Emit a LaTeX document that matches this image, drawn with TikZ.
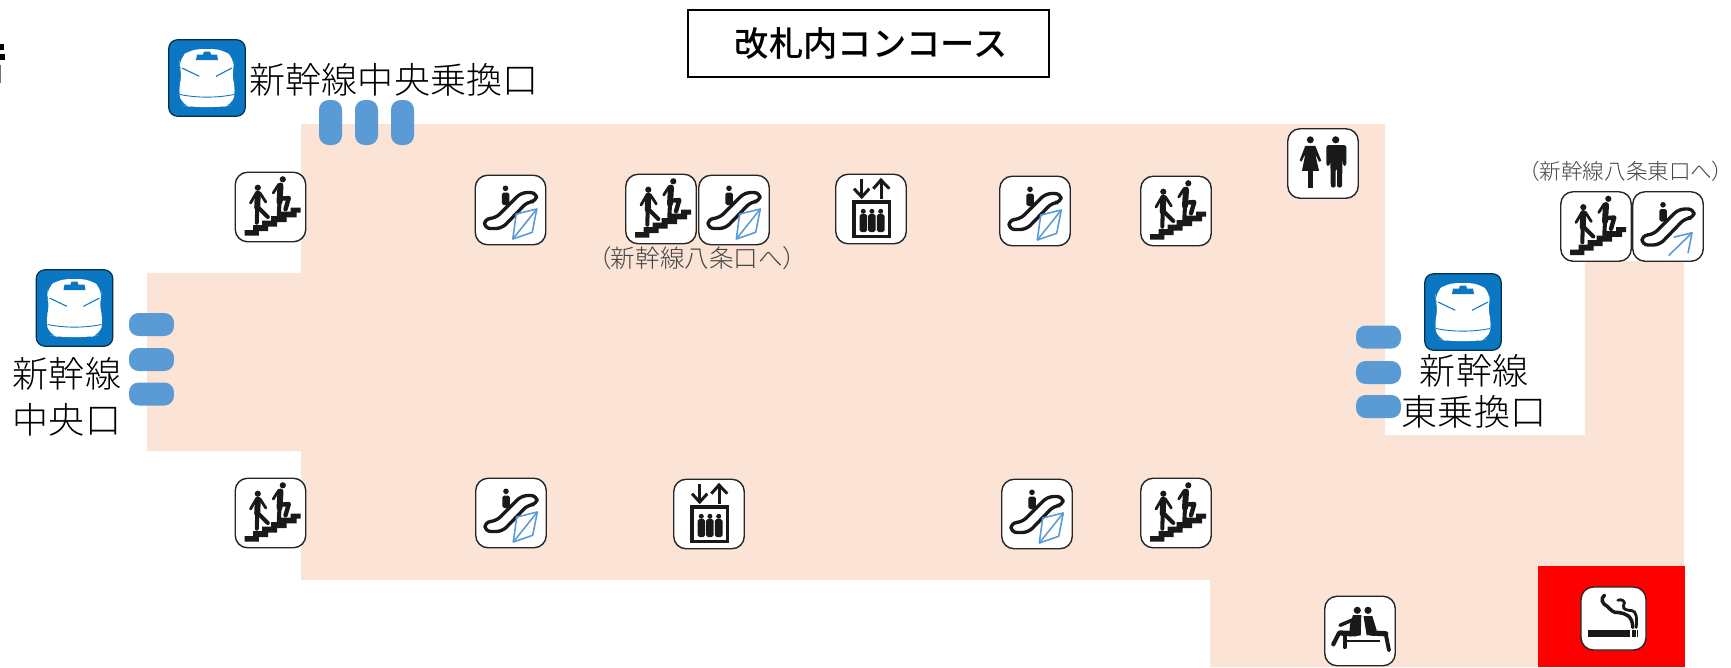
\documentclass[tikz,border=0pt]{standalone}
\usepackage{fontspec}
\newfontfamily\jpfont{Noto Sans CJK JP Light}
\newfontfamily\jpparen[RawFeature=+palt]{Noto Sans CJK JP Light}
\newfontfamily\jpbold{Noto Sans CJK JP Medium}
\definecolor{floorpink}{HTML}{FBE4D6}
\definecolor{gateblue}{HTML}{5B9BD5}
\definecolor{trainblue}{HTML}{0B77C2}
\definecolor{icongray}{HTML}{444444}
\tikzset{
  iconbox/.style={draw=black!85, fill=white, line width=0.8pt, rounded corners=7pt, minimum width=1.41cm, minimum height=1.39cm, inner sep=0pt},
  gatev/.style={fill=gateblue, rounded corners=5.5pt, minimum width=0.46cm, minimum height=0.9cm, inner sep=0pt},
  gateh/.style={fill=gateblue, rounded corners=5.5pt, minimum width=0.9cm, minimum height=0.46cm, inner sep=0pt},
  trainbox/.style={draw=black!60!trainblue, fill=trainblue, line width=0.7pt, rounded corners=5pt, minimum width=1.53cm, minimum height=1.53cm, inner sep=0pt},
  bigtext/.style={font=\jpfont\fontsize{20.5}{26}\selectfont, inner sep=0pt, align=center},
  notetext/.style={text=icongray, inner sep=0pt},
  limb/.style={draw=black!90, line cap=round, line join=round},
  % person on a stair
  pics/stairsicon/.style={code={
    \fill[black!90] (-26,27.7) -- (-26,23) -- (-17.3,23) -- (-17.3,18) -- (-8.3,18) -- (-8.3,13.5) -- (0.7,13.5) -- (0.7,9) -- (10,9) -- (10,4.5) -- (20,4.5) -- (20,0.5) -- (30,0.5) -- (30,5.5) -- (26,5.5) -- (26,10.3) -- (16,10.3) -- (16,15) -- (6.7,15) -- (6.7,19.5) -- (-2.3,19.5) -- (-2.3,24) -- (-11.7,24) -- (-11.7,28.5) -- (-26,28.5) -- cycle;
    \fill[black!90] (-12.7,-19.3) circle (3.1);
    \draw[limb, line width=3.4pt] (-12.7,-13.5) -- (-13.3,0.5);
    \draw[limb, line width=1.6pt] (-14,-14.3) -- (-20,-4);
    \draw[limb, line width=1.6pt] (-10.7,-14.3) -- (-4.7,-5);
    \draw[limb, line width=2.3pt] (-13.3,1) -- (-13.7,15.7);
    \draw[limb, line width=2.3pt] (-11.7,1) -- (-2.7,10);
    \fill[black!90] (12.3,-27.7) circle (3.1);
    \draw[limb, line width=3.4pt] (10,-21.5) -- (9,-5);
    \draw[limb, line width=1.6pt] (8.3,-22.7) -- (2.7,-14);
    \draw[limb, line width=2.3pt] (9,-5) -- (8.3,8.3);
    \draw[limb, line width=2.5pt] (10,-8.3) -- (18.3,-9) -- (15,2.3);
  }},
  % escalator body and rider
  pics/escbody/.style={code={
    \draw[black!90, line width=1.9pt, rounded corners=3.4pt] (10.7,-17.5) -- (26,-17.5) -- (26,-8.5) -- (17.3,-8.5) -- (-8.7,18.5) -- (-26,18.5) -- (-26,8.5) -- (-15.3,8.5) -- cycle;
    \fill[black!90] (-5,-21.7) circle (2.8);
    \fill[black!90, rounded corners=1pt] (-8.7,-17.5) rectangle (-1.2,-5);
  }},
  pics/escboth/.style={code={
    \pic {escbody};
    \draw[gateblue, line width=0.9pt, line join=round] (5.7,4) -- (26.3,-1) -- (21.7,22.3) -- (2.3,29) -- cycle;
    \draw[gateblue, line width=0.9pt] (26.3,-1) -- (2.3,29);
  }},
  pics/escup/.style={code={
    \pic {escbody};
    \draw[gateblue, line width=0.9pt] (0.7,29) -- (24,6.3);
    \draw[gateblue, line width=0.9pt, line join=round] (5.7,10.7) -- (24,6.3) -- (20,26.7);
  }},
  pics/elevicon/.style={code={
    \draw[black!90, line width=1.7pt] (-9.3,-30.3) -- (-9.3,-12);
    \draw[black!90, line width=1.7pt] (-17,-20.3) -- (-9.3,-12) -- (-1.7,-20.3);
    \draw[black!90, line width=1.7pt] (10,-10.3) -- (10,-29);
    \draw[black!90, line width=1.7pt] (2.3,-20.3) -- (10,-29) -- (18.3,-20.3);
    \draw[black!90, line width=2pt] (-17,-7) rectangle (18.3,27.3);
    \fill[black!90] (-7.7,2.3) circle (2.5);
    \fill[black!90] (0.9,2.3) circle (2.5);
    \fill[black!90] (9.7,2.3) circle (2.5);
    \fill[black!90, rounded corners=1pt] (-11.5,5) rectangle (-3.9,23);
    \fill[black!90, rounded corners=1pt] (-2.9,5) rectangle (4.7,23);
    \fill[black!90, rounded corners=1pt] (5.9,5) rectangle (13.5,23);
  }},
  pics/toileticon/.style={code={
    \fill[black!90] (-12.7,-23.7) circle (3.5);
    \fill[black!90, line join=round] (-17.7,-17.7) -- (-7.7,-17.7) -- (-1.7,-2.7) -- (-4,-1.7) -- (-7.7,-9.3) -- (-4,7.3) -- (-21,7.3) -- (-17.7,-9.3) -- (-21.7,-1.7) -- (-23.3,-3.3) -- cycle;
    \fill[black!90] (-15,7.3) rectangle (-10.3,24);
    \fill[black!90] (12.7,-23.7) circle (3.6);
    \fill[black!90, rounded corners=1.2pt] (3.3,-18.3) -- (23.3,-18.3) -- (23.3,2.3) -- (20,2.3) -- (19.5,-6) -- (19,24) -- (14,24) -- (14,5) -- (12.7,5) -- (12.7,24) -- (7.8,24) -- (7.3,-6) -- (6.8,2.3) -- (3.3,2.3) -- cycle;
  }},
  pics/benchicon/.style={code={
    \fill[black!90] (-2.7,-20.7) circle (3.6);
    \fill[black!90] (8,-20.7) circle (3.6);
    \fill[black!90] (-7,-16) -- (1.3,-16) -- (0.7,4.5) -- (-11,5.5) -- (-10,-6.7) -- cycle;
    \draw[limb, line width=2pt] (-6,-11.7) -- (-20,-5.7);
    \draw[limb, line width=3pt] (-4.3,2.7) -- (-20,2);
    \draw[limb, line width=2.4pt] (-21,2) -- (-26.7,13.3);
    \draw[limb, line width=2.4pt] (-15.3,3.3) -- (-15.3,16);
    \fill[black!90] (3.5,-15) -- (12.3,-15) -- (16.7,-0.7) -- (6.7,4.5) -- cycle;
    \draw[limb, line width=3pt] (10,2) -- (25.7,2.7);
    \draw[limb, line width=2.2pt] (25.7,2.7) -- (29,19.3);
    \draw[black!90, line width=1.3pt] (-13.3,10) -- (20,10);
  }},
  pics/smokeicon/.style={code={
    \fill[black!90] (-26,11) rectangle (16.7,18.3);
    \fill[black!90] (18,11) rectangle (20,18.3);
    \fill[black!90] (20.7,11) rectangle (22.7,18.3);
    \fill[black!90] (23.3,11) rectangle (24.7,18.3);
    \draw[black!90, line width=2pt, line cap=round] (-9,-23.3) .. controls (-13,-20) and (-12,-15) .. (-6,-12) .. controls (-3,-9) and (0,-5) .. (5,-6) .. controls (12,-5) and (19,-3) .. (19.3,9);
    \draw[black!90, line width=1.6pt, line cap=round] (4.3,-18.3) .. controls (8,-20) and (13,-17) .. (10,-13) .. controls (9,-9) and (14,-8) .. (18,-8) .. controls (23,-7) and (23.5,-2) .. (22.7,9);
  }},
  % shinkansen front
  pics/trainicon/.style={code={
    \fill[white, rounded corners=5pt] (-16,-28.8) -- (15.7,-28.8) -- (27.5,-19.3) -- (26,-8.3) -- (24.5,-1.7) -- (29,11.7) -- (25,27) -- (15.7,29) -- (-16,29) -- (-25,27) -- (-29,11.7) -- (-24.5,-1.7) -- (-27,-10) -- (-27.5,-20) -- cycle;
    \fill[trainblue] (-10,-23.5) -- (-4,-23.5) -- (-3,-26.5) -- (3,-26.5) -- (4,-23.5) -- (10,-23.5) -- (11,-18) -- (-11,-18) -- cycle;
    \draw[trainblue, line width=0.6pt] (-25,-10) -- (-7.7,-1.7);
    \draw[trainblue, line width=0.6pt] (25,-10) -- (9,-1.7);
    \draw[trainblue, line width=0.5pt] (-27,16.5) .. controls (-10,20) and (10,20) .. (27,16.5);
  }}
}
\begin{document}
\begin{tikzpicture}[x=0.02cm, y=-0.02cm]
  \useasboundingbox (0,0) rectangle (1731,667);

  % Floor area
  \fill[floorpink] (301,124) -- (1385,124) -- (1385,435) -- (1585,435) -- (1585,261) -- (1684,261) -- (1684,667) -- (1210,667) -- (1210,580) -- (301,580) -- (301,451) -- (147,451) -- (147,273) -- (301,273) -- cycle;
  \fill[red] (1538,566) rectangle (1685,667);

  % Cut-off mark at the left edge
  \fill[black] (0,44) rectangle (4,50);
  \fill[black] (0,54) rectangle (5,60);
  \fill[black!55] (0,65) rectangle (1,83);

  % Title
  \node[draw=black, fill=white, line width=1.2pt, minimum width=7.22cm, minimum height=1.34cm, font=\jpbold\fontsize{19.5}{24}\selectfont] (titlebox) at (868.5,43.5) {\hspace{3pt}改札内コンコース};

  % Gates
  \node[gatev] (gateTa) at (330.5,122.5) {};
  \node[gatev] (gateTb) at (366.5,122.5) {};
  \node[gatev] (gateTc) at (402.5,122.5) {};
  \node[gateh] (gateLa) at (151.5,324.5) {};
  \node[gateh] (gateLb) at (151.5,359.5) {};
  \node[gateh] (gateLc) at (151.5,394) {};
  \node[gateh] (gateRa) at (1378.5,337) {};
  \node[gateh] (gateRb) at (1378.5,372.5) {};
  \node[gateh] (gateRc) at (1378.5,406.5) {};

  % Train signs
  \node[trainbox] (trainT) at (207,78) {};
  \node[trainbox] (trainL) at (74.5,308) {};
  \node[trainbox] (trainR) at (1463,312) {};
  \pic at (trainT) {trainicon};
  \pic at (trainL) {trainicon};
  \pic at (trainR) {trainicon};

  % Stairs
  \node[iconbox] (stairsA) at (270.5,207) {};
  \node[iconbox] (stairsB) at (661,209) {};
  \node[iconbox] (stairsC) at (1176,211) {};
  \node[iconbox] (stairsD) at (1596,226.5) {};
  \node[iconbox] (stairsE) at (270.5,513) {};
  \node[iconbox] (stairsF) at (1176,513) {};
  \pic at (stairsA) {stairsicon};
  \pic at (stairsB) {stairsicon};
  \pic at (stairsC) {stairsicon};
  \pic at (stairsD) {stairsicon};
  \pic at (stairsE) {stairsicon};
  \pic at (stairsF) {stairsicon};

  % Escalators
  \node[iconbox] (escA) at (510.5,210) {};
  \node[iconbox] (escB) at (734,210) {};
  \node[iconbox] (escC) at (1035,211) {};
  \node[iconbox] (escD) at (1668,226.5) {};
  \node[iconbox] (escE) at (511,513) {};
  \node[iconbox] (escF) at (1037,514) {};
  \pic at (escA) {escboth};
  \pic at (escB) {escboth};
  \pic at (escC) {escboth};
  \pic at (escD) {escup};
  \pic at (escE) {escboth};
  \pic at (escF) {escboth};

  % Elevators
  \node[iconbox] (elevA) at (871,209) {};
  \node[iconbox] (elevB) at (709,514) {};
  \pic at (elevA) {elevicon};
  \pic at (elevB) {elevicon};

  % Toilet, bench, smoking
  \node[iconbox] (toilet) at (1323,163.5) {};
  \pic at (toilet) {toileticon};
  \node[iconbox] (bench) at (1360,631) {};
  \pic at (bench) {benchicon};
  \node[iconbox, minimum width=1.3cm, minimum height=1.26cm] (smoking) at (1613.5,618.5) {};
  \pic at (smoking) {smokeicon};

  % Labels
  \node[bigtext] (labelT) at (394,80) {新幹線中央乗換口};
  \node[bigtext] (labelL) at (67,397) {新幹線\\中央口};
  \node[bigtext, font=\jpfont\fontsize{20.5}{23.2}\selectfont] (labelR) at (1474,391) {新幹線\\東乗換口};
  \node[notetext, font=\jpfont\fontsize{14}{16}\selectfont] (noteA) at (697,258) {{\jpparen （}新幹線八条口へ{\jpparen ）}};
  \node[notetext, font=\jpfont\fontsize{12.3}{15}\selectfont] (noteB) at (1626,171) {{\jpparen （}新幹線八条東口へ{\jpparen ）}};
\end{tikzpicture}
\end{document}
